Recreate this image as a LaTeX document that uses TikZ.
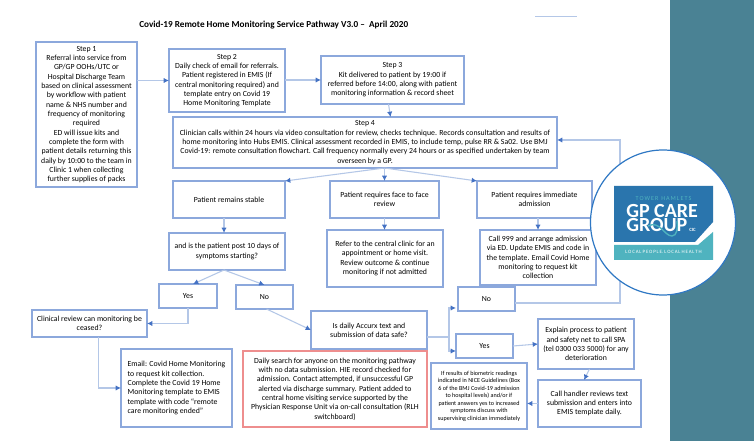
\documentclass[tikz,border=0pt]{standalone}
\usepackage{fontspec}
\setmainfont{Carlito}
\usetikzlibrary{calc}
\usetikzlibrary{arrows.meta}
\definecolor{boxblue}{HTML}{8CA8DC}
\definecolor{boxred}{HTML}{EE8E8E}
\definecolor{linepale}{HTML}{B4C7E7}
\definecolor{tipblue}{HTML}{4472C4}
\definecolor{sidebar}{HTML}{4A8294}
\definecolor{ringblue}{HTML}{2F78C4}
\definecolor{logoblue}{HTML}{2A75AD}
\definecolor{logoteal}{HTML}{4FB3BF}
\newcommand{\pxunit}{0.75pt}
\newcommand{\boxfont}{\fontsize{5.85pt}{7pt}\selectfont}
\newcommand{\smallfont}{\fontsize{4.6pt}{5.6pt}\selectfont}
\tikzset{
  pathbox/.style={draw=boxblue,line width=0.8pt,align=center,inner sep=0pt,outer sep=0pt,font=\boxfont},
  redbox/.style={draw=boxred},
  flowline/.style={draw=linepale,line width=0.8pt,-{Latex[length=4pt,width=4pt,color=tipblue]}},
  plainline/.style={draw=linepale,line width=0.8pt},
}
% box from its corners: style, name, x1, y1, x2, y2, text
\newcommand{\flowbox}[7][]{
  \node[pathbox,#1,minimum width={(#5-#3)*\pxunit},minimum height={(#6-#4)*\pxunit}]
    (#2) at ({(#3+#5)/2},{(#4+#6)/2}) {#7};
}
\begin{document}
\begin{tikzpicture}[x=\pxunit,y=-\pxunit]
  \useasboundingbox (0,0) rectangle (754,441);
  \fill[white] (0,0) rectangle (754,441);
  \fill[sidebar] (670,0) rectangle (754,441);

  \node[font=\fontsize{6.9pt}{9pt}\selectfont\bfseries,anchor=west,inner sep=0pt] (title) at (139,25)
    {Covid-19 Remote Home Monitoring Service Pathway V3.0 –\ \ April 2020};
  \draw[draw=linepale,line width=0.6pt] (535,16) -- (577,16);

  % steps
  \flowbox{stepone}{36}{42}{137}{187}{Step 1\\Referral into service from\\GP/GP OOHs/UTC or\\Hospital Discharge Team\\based on clinical assessment\\by workflow with patient\\name \& NHS number and\\frequency of monitoring\\required\\ED will issue kits and\\complete the form with\\patient details returning this\\daily by 10:00 to the team in\\Clinic 1 when collecting\\further supplies of packs}
  \flowbox{steptwo}{169}{49}{285}{112}{Step 2\\Daily check of email for referrals.\\Patient registered in EMIS (If\\central monitoring required) and\\template entry on Covid 19\\Home Monitoring Template}
  \flowbox{stepthree}{321}{56}{464}{104}{Step 3\\Kit delivered to patient by 19:00 if\\referred before 14:00, along with patient\\monitoring information \& record sheet}
  \flowbox{stepfour}{173}{117}{557}{168}{Step 4\\Clinician calls within 24 hours via video consultation for review, checks technique. Records consultation and results of\\home monitoring into Hubs EMIS. Clinical assessment recorded in EMIS, to include temp, pulse RR \& Sa02. Use BMJ\\Covid-19: remote consultation flowchart. Call frequency normally every 24 hours or as specified undertaken by team\\overseen by a GP.}

  % outcomes
  \flowbox{stable}{173}{181}{285}{218}{Patient remains stable}
  \flowbox{faceface}{330}{181}{439}{218}{Patient requires face to face\\review}
  \flowbox{immediate}{477}{181}{592}{218}{Patient requires immediate\\admission}
  \flowbox{postten}{169}{233}{285}{270}{and is the patient post 10 days of\\symptoms starting?}
  \flowbox{refer}{327}{230}{443}{287}{Refer to the central clinic for an\\appointment or home visit.\\Review outcome \& continue\\monitoring if not admitted}
  \flowbox{callnine}{480}{230}{596}{285}{Call 999 and arrange admission\\via ED. Update EMIS and code in\\the template. Email Covid Home\\monitoring to request kit\\collection}
  \flowbox{yesone}{159}{284}{217}{308}{Yes}
  \flowbox{noone}{236}{285}{293}{309}{No}
  \flowbox{review}{32}{310}{147}{337}{Clinical review can monitoring be\\ceased?}
  \flowbox[align=left]{email}{121}{349}{232}{427}{Email: Covid Home Monitoring\\to request kit collection.\\Complete the Covid 19 Home\\Monitoring template to EMIS\\template with code ``remote\\care monitoring ended''}
  \flowbox[redbox]{search}{243}{351}{427}{427}{Daily search for anyone on the monitoring pathway\\with no data submission. HIE record checked for\\admission. Contact attempted, if unsuccessful GP\\alerted via discharge summary. Patient added to\\central home visiting service supported by the\\Physician Response Unit via on-call consultation (RLH\\switchboard)}
  \flowbox{accurx}{311}{311}{427}{349}{Is daily Accurx text and\\submission of data safe?}
  \flowbox{notwo}{458}{287}{515}{311}{No}
  \flowbox{yestwo}{456}{334}{513}{358}{Yes}
  \flowbox{explain}{538}{319}{634}{369}{Explain process to patient\\and safety net to call SPA\\(tel 0300 033 5000) for any\\deterioration}
  \flowbox{handler}{538}{380}{641}{427}{Call handler reviews text\\submission and enters into\\EMIS template daily.}
  \flowbox[font=\smallfont]{biometric}{431}{363}{527}{429}{If results of biometric readings\\indicated in NICE Guidelines (Box\\6 of the BMJ Covid-19 admission\\to hospital levels) and/or if\\patient answers yes to increased\\symptoms discuss with\\supervising clinician immediately}

  % connectors
  \coordinate (fourout) at (faceface.north |- stepfour.south);
  \coordinate (tenout) at ($(postten.south)+(-3,0)$);
  \coordinate (accsplit) at (449,337);
  \coordinate (noback) at (620,303);
  \draw[flowline] (stepone.east |- steptwo.west) -- (steptwo.west);
  \draw[flowline] (steptwo.east |- stepthree.west) -- (stepthree.west);
  \draw[flowline] ($(stepthree.south)+(-4,0)$) -- ($(stepthree.south)+(-2,13)$);
  \draw[flowline] (fourout) -- (stable.north east);
  \draw[flowline] (fourout) -- (fourout |- faceface.north);
  \draw[flowline] (fourout) -- (immediate.north west);
  \draw[flowline] ($(stable.south)+(-5,0)$) -- ($(postten.north)+(-3,0)$);
  \draw[flowline] (faceface.south) -- (refer.north -| faceface.south);
  \draw[flowline] (immediate.south -| callnine.north) -- (callnine.north);
  \draw[flowline] (tenout) -- ($(yesone.north)+(5,0)$);
  \draw[flowline] (tenout) -- (noone.north);
  \draw[flowline] (yesone.south) |- (review.east);
  \draw[flowline] ($(noone.south)+(2,0)$) -- (accurx.west);
  \draw[flowline] ($(review.south)+(9,0)$) |- (email.west);
  \draw[plainline] (accurx.east |- accsplit) -- (accsplit);
  \draw[flowline] (accsplit) |- ($(notwo.south west)+(-2,-3)$);
  \draw[flowline] (accsplit) |- ($(yestwo.south west)+(0,-7)$);
  \draw[flowline] (yestwo.east) -- (explain.west);
  \draw[flowline] (explain.south -| handler.north) -- ($(handler.north)+(-5.5,0)$);
  \draw[flowline] (handler.west) -- (biometric.east |- handler.west);
  \draw[flowline] (notwo.east |- noback) -- (noback) |- (stepfour.east |- 0,140);

  % logo
  \begin{scope}
    \draw[fill=white,draw=ringblue,line width=0.9pt] (663,222.5) circle (72.5);
    \fill[logoblue] (614,186) -- (713,186) -- (713,222) -- (695,242) -- (614,242) -- cycle;
    \fill[logoteal] (614,245) -- (698,245) -- (713,232) -- (713,260) -- (614,260) -- cycle;
    \node[font=\fontsize{4.6pt}{6pt}\selectfont,text=logoteal,inner sep=0pt] (logotop) at (663.5,198.5) {T\,O\,W\,E\,R\ \ H\,A\,M\,L\,E\,T\,S};
    \node[font=\fontsize{15pt}{10.5pt}\selectfont\bfseries,text=white,inner sep=0pt,anchor=west,align=left] (logoname) at (626,218.5) {GP CARE\\GROUP};
    \node[font=\fontsize{3.6pt}{5pt}\selectfont\bfseries,text=white,inner sep=0pt,anchor=base west] (logocic) at (689,232) {CIC};
    \draw[logoteal,line width=1pt] (648,226) .. controls (660,220) and (664,236) .. (672,236) .. controls (677,236) and (678,228) .. (677,221);
    \node[font=\fontsize{3.7pt}{5pt}\selectfont,text=white,inner sep=0pt] (logofoot) at (663.5,252) {L\,O\,C\,A\,L\ P\,E\,O\,P\,L\,E.\ L\,O\,C\,A\,L\ H\,E\,A\,L\,T\,H};
  \end{scope}
\end{tikzpicture}
\end{document}
